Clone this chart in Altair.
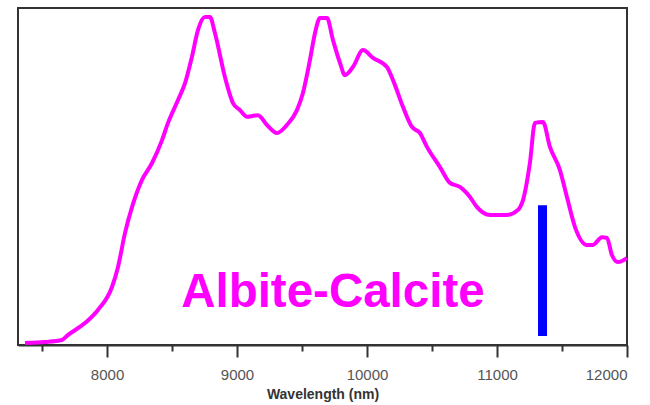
import altair as alt
import pandas as pd

# Reflectance spectrum (relative intensity) versus wavelength
wavelength = [7369, 7523, 7653, 7700, 7830, 7930, 8038, 8084, 8138, 8192,
              8269, 8346, 8423, 8469, 8546, 8600, 8653, 8700, 8753, 8792,
              8830, 8907, 8969, 9023, 9077, 9161, 9230, 9307, 9384, 9461,
              9507, 9561, 9600, 9638, 9692, 9738, 9792, 9830, 9892, 9969,
              10046, 10153, 10200, 10277, 10346, 10407, 10461, 10561, 10638, 10715,
              10792, 10846, 10946, 11077, 11161, 11200, 11253, 11292, 11353, 11407,
              11484, 11538, 11600, 11692, 11738, 11807, 11846, 11884, 11930, 12000]
intensity = [0.6, 0.9, 1.5, 3.0, 6.5, 10.4, 17.2, 23.1, 33.2, 40.9,
             49.0, 54.0, 60.8, 65.9, 72.7, 77.7, 85.5, 93.5, 97.3, 97.3,
             92.6, 79.5, 71.8, 69.7, 67.7, 68.2, 65.3, 62.9, 65.3, 69.7,
             74.8, 84.6, 92.6, 97.0, 97.0, 90.5, 83.7, 80.1, 82.5, 87.5,
             85.2, 82.5, 78.6, 70.6, 64.7, 62.9, 58.8, 52.8, 48.1, 46.9,
             43.9, 40.9, 38.6, 38.6, 40.1, 43.0, 54.0, 65.9, 66.2, 58.8,
             51.9, 43.9, 35.0, 29.7, 29.7, 32.0, 31.8, 26.7, 24.6, 25.8]

# Marker bar
marker_wl = [11350]
marker_lo = [2.7]
marker_hi = [41.5]

# Sample label
label_text = ["Albite-Calcite"]
label_wl = [8570]
label_y = [11.3]

spec = pd.DataFrame({"wl": wavelength, "val": intensity})
marker = pd.DataFrame({"wl": marker_wl, "lo": marker_lo, "hi": marker_hi})
label = pd.DataFrame({"t": label_text, "wl": label_wl, "y": label_y})

x_scale = alt.Scale(domain=[7315, 12000], nice=False, zero=False)
y_scale = alt.Scale(domain=[0, 100], nice=False)

x_axis = alt.Axis(
    values=list(range(7500, 12001, 500)),
    labelExpr="datum.value % 1000 === 0 ? datum.value : ''",
    tickSize={"condition": {"test": "datum.value % 1000 === 0", "value": 12}, "value": 6},
    tickColor="#333",
    tickWidth=2,
    domainColor="#333",
    domainWidth=2,
    grid=False,
    labelFont="Liberation Sans",
    labelFontSize=15,
    labelColor="#555",
    labelPadding=10,
    title="Wavelength (nm)",
    titleFont="Liberation Sans",
    titleFontSize=14,
    titleFontWeight="bold",
    titleColor="#333",
    titlePadding=5,
)

line = alt.Chart(spec).mark_line(color="#FF00FF", strokeWidth=4, interpolate="monotone").encode(
    x=alt.X("wl:Q", scale=x_scale, axis=x_axis),
    y=alt.Y("val:Q", scale=y_scale, axis=None),
)

bar = alt.Chart(marker).mark_rule(color="#0000FF", strokeWidth=9).encode(
    x="wl:Q",
    y="lo:Q",
    y2="hi:Q",
)

text = alt.Chart(label).mark_text(
    align="left", baseline="alphabetic", font="Liberation Sans",
    fontSize=47.5, fontWeight="bold", color="#FF00FF",
).encode(x="wl:Q", y="y:Q", text="t:N")

chart = (
    alt.layer(line, bar, text)
    .properties(
        width=609,
        height=337,
        autosize=alt.AutoSizeParams(type="none"),
        padding={"left": 18, "top": 8, "right": 23, "bottom": 60},
        background="white",
    )
    .configure_view(stroke="#333", strokeWidth=2)
)

chart.save("out.html", embed_options={"renderer": "svg", "actions": False})
